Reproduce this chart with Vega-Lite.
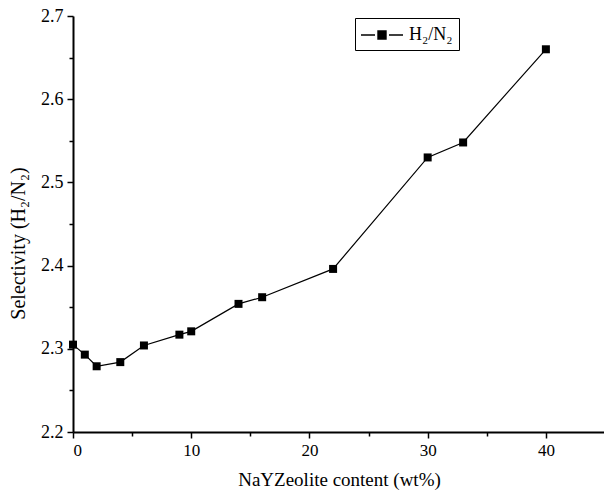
{
  "$schema": "https://vega.github.io/schema/vega-lite/v6.json",
  "autosize": "none",
  "width": 532,
  "height": 416,
  "padding": {"left": 73, "top": 16, "right": 0, "bottom": 65},
  "background": "white",
  "config": {
    "view": {"stroke": null},
    "font": "Liberation Serif",
    "axis": {
      "domainColor": "black",
      "domainWidth": 2,
      "tickColor": "black",
      "tickWidth": 1.5,
      "labelColor": "black",
      "labelFont": "Liberation Serif",
      "titleFont": "Liberation Serif",
      "titleFontWeight": "normal",
      "titleColor": "black",
      "grid": false
    }
  },
  "data": {
    "values": [
      {"content": 0, "selectivity": 2.305, "series": "H₂/N₂"},
      {"content": 1, "selectivity": 2.293, "series": "H₂/N₂"},
      {"content": 2, "selectivity": 2.279, "series": "H₂/N₂"},
      {"content": 4, "selectivity": 2.284, "series": "H₂/N₂"},
      {"content": 6, "selectivity": 2.304, "series": "H₂/N₂"},
      {"content": 9, "selectivity": 2.317, "series": "H₂/N₂"},
      {"content": 10, "selectivity": 2.321, "series": "H₂/N₂"},
      {"content": 14, "selectivity": 2.354, "series": "H₂/N₂"},
      {"content": 16, "selectivity": 2.362, "series": "H₂/N₂"},
      {"content": 22, "selectivity": 2.396, "series": "H₂/N₂"},
      {"content": 30, "selectivity": 2.530, "series": "H₂/N₂"},
      {"content": 33, "selectivity": 2.548, "series": "H₂/N₂"},
      {"content": 40, "selectivity": 2.660, "series": "H₂/N₂"}
    ]
  },
  "mark": {
    "type": "line",
    "strokeWidth": 1.2,
    "point": {"shape": "square", "size": 64, "filled": true, "opacity": 1}
  },
  "encoding": {
    "x": {
      "field": "content",
      "type": "quantitative",
      "scale": {"domain": [0, 45], "nice": false, "zero": false},
      "axis": {
        "title": "NaYZeolite content (wt%)",
        "values": [0, 5, 10, 15, 20, 25, 30, 35, 40, 45],
        "labelExpr": "datum.value % 10 === 0 ? datum.label : ''",
        "format": "d",
        "labelFontSize": 17,
        "titleFontSize": 19,
        "tickSize": {"condition": {"test": "datum.value % 10 === 0", "value": 6}, "value": 4},
        "labelPadding": 4,
        "titlePadding": 12
      }
    },
    "y": {
      "field": "selectivity",
      "type": "quantitative",
      "scale": {"domain": [2.2, 2.7], "nice": false, "zero": false},
      "axis": {
        "title": "Selectivity (H₂/N₂)",
        "values": [2.2, 2.25, 2.3, 2.35, 2.4, 2.45, 2.5, 2.55, 2.6, 2.65, 2.7],
        "labelExpr": "round(datum.value * 100) % 10 === 0 ? format(datum.value, '.1f') : ''",
        "labelFontSize": 18,
        "titleFontSize": 20,
        "titleY": 227,
        "tickSize": {"condition": {"test": "round(datum.value * 100) % 10 === 0", "value": 6}, "value": 4},
        "labelPadding": 4,
        "titlePadding": 12
      }
    },
    "color": {
      "field": "series",
      "type": "nominal",
      "scale": {"range": ["black"]},
      "legend": {
        "title": null,
        "orient": "none",
        "legendX": 282,
        "legendY": 2,
        "direction": "vertical",
        "strokeColor": "black",
        "padding": 6,
        "symbolType": "M-2.1,0H-0.7M0.7,0H2.1M-0.4,-0.4H0.4V0.4H-0.4Z",
        "symbolSize": 400,
        "symbolStrokeWidth": 1.4,
        "symbolStrokeColor": "black",
        "symbolFillColor": "black",
        "symbolOffset": 10,
        "labelOffset": 16,
        "labelFont": "Liberation Serif",
        "labelFontSize": 18,
        "labelColor": "black",
        "encode": {
          "symbols": {"update": {"fill": {"value": "black"}, "stroke": {"value": "black"}, "opacity": {"value": 1}}}
        }
      }
    }
  }
}
